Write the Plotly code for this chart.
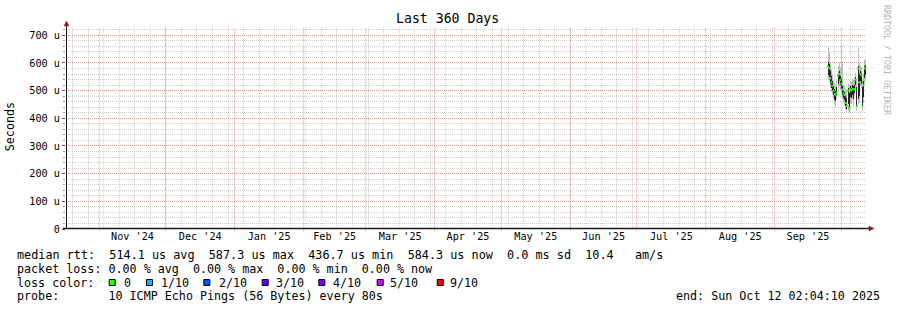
import plotly.graph_objects as go
import pandas as pd

# ---------------- data ----------------
title_text = "Last 360 Days"
range_start = "2024-10-17 02:04:10"
range_end = "2025-10-12 02:04:10"

sample_times = pd.date_range("2025-09-25 00:00", periods=35, freq="12h")

# median rtt (microseconds) per consolidated step
rtt_median = [587, 581, 545, 530, 517, 500, 488, 485, 493, 555, 560, 538, 525, 505, 490,
              484, 455, 445, 500, 437, 505, 500, 505, 505, 505, 540, 445, 580, 530, 560,
              555, 445, 520, 580, 584]
# dense (inner) smoke band
rtt_lo = [556, 550, 525, 510, 500, 485, 468, 462, 482, 525, 535, 520, 505, 485, 475,
          466, 445, 435, 450, 432, 478, 472, 485, 470, 492, 522, 440, 470, 480, 535,
          525, 440, 478, 545, 555]
rtt_hi = [605, 595, 570, 552, 535, 515, 505, 497, 512, 562, 570, 553, 543, 515, 500,
          495, 482, 472, 508, 492, 515, 510, 522, 515, 522, 548, 512, 590, 562, 572,
          565, 512, 535, 588, 592]
# full (outer) smoke band
rtt_min = [540, 530, 510, 495, 485, 470, 450, 442, 470, 505, 515, 500, 490, 470, 455,
           445, 430, 420, 425, 420, 455, 450, 470, 445, 480, 505, 425, 450, 455, 515,
           505, 425, 455, 525, 535]
rtt_max = [655, 640, 600, 580, 560, 540, 525, 520, 540, 590, 600, 585, 665, 600, 520,
           515, 505, 500, 525, 520, 535, 530, 545, 540, 545, 565, 540, 655, 600, 590,
           585, 540, 560, 610, 615]

y_tick_vals = [0, 100, 200, 300, 400, 500, 600, 700]
y_tick_text = ["0", "100 u", "200 u", "300 u", "400 u", "500 u", "600 u", "700 u"]
week_grid = pd.date_range("2024-10-20", "2025-10-12", freq="7D")
month_grid = pd.date_range("2024-11-01", "2025-10-01", freq="MS")

legend_line1 = "median rtt:  514.1 us avg  587.3 us max  436.7 us min  584.3 us now  0.0 ms sd  10.4   am/s"
legend_line2 = "packet loss: 0.00 % avg  0.00 % max  0.00 % min  0.00 % now"
legend_line3 = "loss color:"
legend_line4 = "probe:       10 ICMP Echo Pings (56 Bytes) every 80s"
end_text = "end: Sun Oct 12 02:04:10 2025"
loss_labels = ["0", "1/10", "2/10", "3/10", "4/10", "5/10", "9/10"]
loss_colors = ["#26ff00", "#00b8ff", "#0059ff", "#5e00ff", "#7e00ff", "#dd00ff", "#ff0000"]
watermark = "RRDTOOL / TOBI OETIKER"

# ---------------- layout geometry ----------------
W, H = 897, 310
L, R, T, B = 66, 31, 27, 81
PW, PH = W - L - R, H - T - B
MONO = "DejaVu Sans Mono"


def px(x):
    return (x - L) / PW


def py(y):
    return (H - B - y) / PH


def nb(s):
    return s.replace(" ", "\u00a0")


GRID = "rgba(150,150,150,0.45)"
MGRID_Y = "rgba(225,80,80,0.45)"
MGRID_X = "rgba(230,70,70,0.6)"
ARROW = "#8c1c1c"

fig = go.Figure()
bar_w = 12 * 3600 * 1000 * 0.9

fig.add_trace(go.Bar(x=sample_times, y=[a - b for a, b in zip(rtt_max, rtt_min)], base=rtt_min,
                     width=bar_w, marker=dict(color="#bcbcbc", line=dict(width=0)),
                     hoverinfo="skip", showlegend=False))
fig.add_trace(go.Bar(x=sample_times, y=[a - b for a, b in zip(rtt_hi, rtt_lo)], base=rtt_lo,
                     width=bar_w, marker=dict(color="#262626", line=dict(width=0)),
                     hoverinfo="skip", showlegend=False))
fig.add_trace(go.Scatter(x=sample_times, y=rtt_median, mode="markers",
                         marker=dict(symbol="square", size=2, color=loss_colors[0], line=dict(width=0)),
                         hoverinfo="skip", showlegend=False))

fig.update_layout(
    width=W, height=H, margin=dict(l=L, r=R, t=T, b=B),
    paper_bgcolor="white", plot_bgcolor="white",
    barmode="overlay", bargap=0,
    font=dict(family=MONO, size=10.2, color="black"),
    showlegend=False,
)

fig.update_xaxes(
    type="date", range=[range_start, range_end],
    dtick="M1", tick0="2024-11-01", ticklabelmode="period", tickformat="%b '%y",
    showgrid=False,
    ticks="",
    tickfont=dict(family=MONO, size=10.2, color="black"),
    showline=False, zeroline=False,
    minor=dict(tickmode="array", tickvals=list(week_grid), showgrid=True, gridcolor=GRID,
               griddash="1px,1px", ticks=""),
    fixedrange=True,
)
fig.update_yaxes(
    range=[0, 730], tickvals=y_tick_vals, ticktext=y_tick_text,
    showgrid=True, gridcolor=MGRID_Y, griddash="1px,1px", gridwidth=1,
    ticks="outside", ticklen=3, tickcolor="#555555",
    tickfont=dict(family=MONO, size=10.2, color="black"),
    showline=False, zeroline=False,
    minor=dict(dtick=20, showgrid=True, gridcolor=GRID, griddash="1px,1px",
               ticks="outside", ticklen=2, tickcolor="#999999"),
    fixedrange=True,
)

shapes = []
# monthly (major) vertical grid lines
for m in month_grid:
    shapes.append(dict(type="line", xref="x", yref="paper", x0=m, x1=m, y0=-0.012, y1=1,
                       layer="below", line=dict(color=MGRID_X, width=1, dash="1px,1px")))
# axis lines
shapes.append(dict(type="line", xref="paper", yref="paper", x0=px(66.5), x1=px(66.5),
                   y0=py(229), y1=py(25), line=dict(color="#1a1a1a", width=1)))
shapes.append(dict(type="line", xref="paper", yref="paper", x0=px(63), x1=px(870),
                   y0=py(228.5), y1=py(228.5), line=dict(color="#1a1a1a", width=1.3)))
# arrows
shapes.append(dict(type="path", xref="paper", yref="paper",
                   path=f"M {px(64.0)},{py(26)} L {px(69.0)},{py(26)} L {px(66.5)},{py(21)} Z",
                   fillcolor=ARROW, line=dict(color=ARROW, width=0.5)))
shapes.append(dict(type="path", xref="paper", yref="paper",
                   path=f"M {px(869)},{py(226)} L {px(869)},{py(231)} L {px(874)},{py(228.5)} Z",
                   fillcolor=ARROW, line=dict(color=ARROW, width=0.5)))

# loss colour swatches
box_left = [108.7, 146.0, 203.3, 261.7, 318.3, 376.7, 436.7]
label_left = [124.0, 160.7, 218.3, 276.0, 332.7, 390.0, 450.0]
for bx, col in zip(box_left, loss_colors):
    shapes.append(dict(type="rect", xref="paper", yref="paper",
                       x0=px(bx + 0.5), x1=px(bx + 6.5), y0=py(285.5), y1=py(279.5),
                       fillcolor=col, line=dict(color="black", width=1)))

annotations = []


def text_at(x, y, s, size=11.7, anchor="left", color="black", angle=0, yanchor="middle"):
    annotations.append(dict(x=px(x), y=py(y), xref="paper", yref="paper", text=nb(s),
                            showarrow=False, xanchor=anchor, yanchor=yanchor,
                            font=dict(family=MONO, size=size, color=color),
                            borderpad=0, textangle=angle))


text_at(447.5, 19, title_text, size=13.2, anchor="center")
text_at(9.7, 126.5, "Seconds", size=11.7, anchor="center", angle=-90)
text_at(887, 60, watermark, size=8.3, anchor="center", color="#b4b4b4", angle=90)
text_at(15.5, 255, legend_line1, size=11.8)
text_at(15.5, 268.5, legend_line2)
text_at(15.5, 282.5, legend_line3)
for lx, lab in zip(label_left, loss_labels):
    text_at(lx - 0.7, 282.5, lab)
text_at(15.5, 296.3, legend_line4)
text_at(881, 296.3, end_text, anchor="right")

fig.update_layout(shapes=shapes, annotations=annotations)

fig.write_html("out.html", config={"displayModeBar": False, "staticPlot": True})
